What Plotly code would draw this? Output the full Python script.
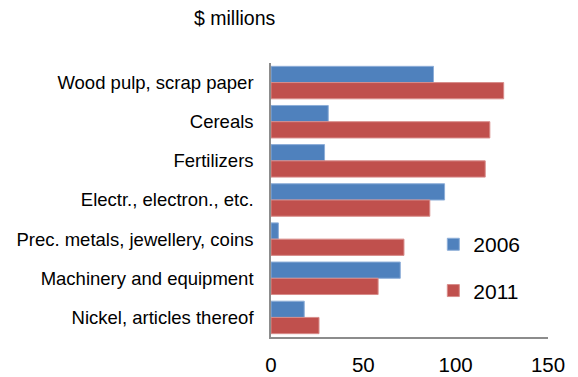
import plotly.graph_objects as go

# Export categories, top to bottom
categories = [
    "Wood pulp, scrap paper",
    "Cereals",
    "Fertilizers",
    "Electr., electron., etc.",
    "Prec. metals, jewellery, coins",
    "Machinery and equipment",
    "Nickel, articles thereof",
]
values_2006 = [88, 31, 29, 94, 4, 70, 18]
values_2011 = [126, 118.5, 116, 86, 72, 58, 26]

FONT = "Liberation Sans, Arial, sans-serif"

fig = go.Figure()
fig.add_trace(go.Bar(
    name="2006", y=categories, x=values_2006, orientation="h",
    marker=dict(color="#4F81BD", line=dict(color="#8DAED8", width=1)),
    legendgroup="a",
))
fig.add_trace(go.Bar(
    name="2011", y=categories, x=values_2011, orientation="h",
    marker=dict(color="#C0504D", line=dict(color="#D88C8A", width=1)),
    legendgroup="b",
))

fig.update_layout(
    width=578, height=377,
    margin=dict(l=271, r=30, t=63, b=40),
    paper_bgcolor="white", plot_bgcolor="white",
    barmode="group", bargap=0.17, bargroupgap=0,
    font=dict(family=FONT, color="black"),
    showlegend=True,
    legend=dict(
        x=0.586, y=0.412, xanchor="left", yanchor="top",
        font=dict(size=21, family=FONT),
        tracegroupgap=16, traceorder="grouped",
        bgcolor="rgba(0,0,0,0)",
    ),
    xaxis=dict(
        range=[0, 150], tickvals=[0, 50, 100, 150],
        showgrid=False, zeroline=False,
        showline=True, linecolor="#8C8C8C", linewidth=1.5,
        ticks="", ticklabelstandoff=9, automargin=False,
        tickfont=dict(size=20.5, family=FONT),
    ),
    yaxis=dict(
        autorange="reversed",
        showgrid=False, zeroline=False,
        showline=True, linecolor="#8C8C8C", linewidth=1.5,
        ticks="", ticklabelstandoff=12, automargin=False,
        tickfont=dict(size=18.5, family=FONT),
    ),
    annotations=[dict(
        text="$ millions", xref="paper", yref="paper",
        x=(235 - 271) / 277, y=1 + (63 - 18) / 274,
        xanchor="center", yanchor="middle", showarrow=False,
        font=dict(size=19.5, family=FONT),
    )],
)

fig.write_html("out.html")
